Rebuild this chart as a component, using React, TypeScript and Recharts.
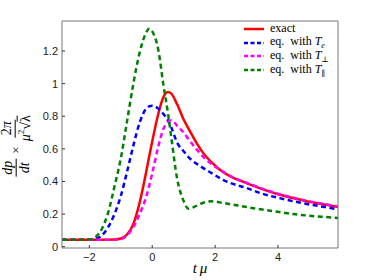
import React from "react";
import {
  LineChart,
  Line,
  XAxis,
  YAxis,
  Legend,
} from "recharts";

// time axis (t mu) and the four curves
const T = [
  -2.87, -2.4, -2.0, -1.8, -1.6, -1.4, -1.2, -1.0, -0.8, -0.6, -0.4, -0.2, -0.1,
  0, 0.2, 0.35, 0.5, 0.6, 0.8, 1.0, 1.15, 1.4, 1.6, 1.9, 2.25, 2.5, 3.0, 3.5,
  4.0, 4.5, 5.0, 5.5, 5.91,
];

const EXACT = [
  0.043, 0.043, 0.043, 0.043, 0.043, 0.043, 0.044, 0.05, 0.075, 0.14, 0.27,
  0.45, 0.55, 0.645, 0.82, 0.915, 0.948, 0.94, 0.87, 0.78, 0.725, 0.64, 0.58,
  0.515, 0.458, 0.43, 0.39, 0.353, 0.322, 0.297, 0.275, 0.258, 0.244,
];

const EQ_TE = [
  0.043, 0.043, 0.044, 0.048, 0.07, 0.12, 0.2, 0.31, 0.46, 0.62, 0.76, 0.845,
  0.86, 0.865, 0.845, 0.815, 0.775, 0.735, 0.635, 0.585, 0.55, 0.51, 0.485,
  0.45, 0.41, 0.39, 0.36, 0.325, 0.3, 0.278, 0.259, 0.243, 0.229,
];

const EQ_TPERP = [
  0.043, 0.043, 0.043, 0.043, 0.043, 0.043, 0.043, 0.046, 0.07, 0.12, 0.2, 0.3,
  0.37, 0.45, 0.62, 0.72, 0.765, 0.775, 0.74, 0.7, 0.66, 0.6, 0.555, 0.505,
  0.46, 0.432, 0.392, 0.356, 0.325, 0.3, 0.278, 0.261, 0.247,
];

const EQ_TPAR = [
  0.043, 0.043, 0.044, 0.06, 0.11, 0.21, 0.37, 0.54, 0.77, 1.0, 1.19, 1.31,
  1.337, 1.32, 1.2, 1.0, 0.82, 0.68, 0.41, 0.28, 0.233, 0.25, 0.268, 0.278,
  0.268, 0.26, 0.243, 0.228, 0.214, 0.2, 0.19, 0.182, 0.176,
];

const X_TICKS = [-2, 0, 2, 4];
const Y_TICKS = [0, 0.2, 0.4, 0.6, 0.8, 1, 1.2];

const data = T.map((t, i) => ({
  t,
  exact: EXACT[i],
  te: EQ_TE[i],
  tperp: EQ_TPERP[i],
  tpar: EQ_TPAR[i],
}));

const SERIES = [
  { key: "exact", color: "#ff0000", dash: undefined, sub: null },
  { key: "te", color: "#0000ff", dash: "5 3.5", sub: "e" },
  { key: "tperp", color: "#ff00ff", dash: "5 3.5", sub: "\u22a5" },
  { key: "tpar", color: "#008000", dash: "5 3.5", sub: "\u2225" },
];

const serif = "'Liberation Serif', 'DejaVu Serif', serif";
const sans = "'Liberation Sans', Arial, sans-serif";

function renderLegend() {
  return (
    <div style={{ fontFamily: serif, fontSize: 12, color: "#000" }}>
      {SERIES.map((s) => (
        <div
          key={s.key}
          style={{ display: "flex", alignItems: "center", height: 13.7 }}
        >
          <svg width={20} height={4} style={{ marginRight: 6 }}>
            <line
              x1={0}
              y1={2}
              x2={20}
              y2={2}
              stroke={s.color}
              strokeWidth={2.5}
              strokeDasharray={s.dash ? "4 2.5" : undefined}
            />
          </svg>
          {s.sub === null ? (
            <span>exact</span>
          ) : (
            <span style={{ whiteSpace: "nowrap" }}>
              eq.&nbsp; with <i>T</i>
              <sub style={{ fontSize: 8, fontStyle: s.sub === "e" ? "italic" : "normal" }}>
                {s.sub}
              </sub>
            </span>
          )}
        </div>
      ))}
    </div>
  );
}

function Frac({ num, den }: { num: React.ReactNode; den: React.ReactNode }) {
  return (
    <span
      style={{
        display: "inline-flex",
        flexDirection: "column",
        alignItems: "center",
        verticalAlign: "middle",
        lineHeight: 1,
      }}
    >
      <span style={{ borderBottom: "1px solid #000", padding: "0 2px 1px" }}>
        {num}
      </span>
      <span style={{ paddingTop: 1 }}>{den}</span>
    </span>
  );
}

export default function App() {
  return (
    <div
      style={{
        position: "absolute",
        left: 0,
        top: 0,
        width: 373,
        height: 280,
        background: "#fff",
      }}
    >
      <LineChart
        width={373}
        height={280}
        data={data}
        margin={{ top: 20, right: 34, bottom: 0, left: 0 }}
      >
        <XAxis
          dataKey="t"
          type="number"
          domain={[-2.87, 5.91]}
          ticks={X_TICKS}
          allowDataOverflow
          height={32}
          stroke="#777"
          tickSize={-3}
          tickMargin={8}
          tickLine={{ stroke: "#333" }}
          tick={{ fill: "#222", fontSize: 11, fontFamily: sans }}
          tickFormatter={(v) => (v < 0 ? `\u2212${-v}` : `${v}`)}
          label={{
            value: "t\u2009\u03bc",
            position: "insideBottom",
            offset: 7,
            style: { fontFamily: serif, fontStyle: "italic", fontSize: 15, fill: "#000" },
          }}
        />
        <XAxis
          xAxisId="top"
          orientation="top"
          type="number"
          domain={[-2.87, 5.91]}
          ticks={X_TICKS}
          allowDataOverflow
          height={1}
          stroke="#777"
          tickSize={-3}
          tickLine={{ stroke: "#333" }}
          tick={false}
        />
        <YAxis
          type="number"
          domain={[-0.008, 1.384]}
          ticks={Y_TICKS}
          allowDataOverflow
          width={62}
          stroke="#777"
          tickSize={-3}
          tickMargin={7}
          tickLine={{ stroke: "#333" }}
          tick={{ fill: "#222", fontSize: 11, fontFamily: sans }}
          tickFormatter={(v) => `${v}`}
        />
        <YAxis
          yAxisId="right"
          orientation="right"
          type="number"
          domain={[-0.008, 1.384]}
          ticks={Y_TICKS}
          allowDataOverflow
          width={1}
          stroke="#777"
          tickSize={-3}
          tickLine={{ stroke: "#333" }}
          tick={false}
        />
        <Legend
          layout="vertical"
          align="center"
          verticalAlign="middle"
          content={renderLegend}
          wrapperStyle={{ top: 22, left: 244, width: 120 }}
        />
        {SERIES.map((s) => (
          <Line
            key={s.key}
            type="monotone"
            dataKey={s.key}
            stroke={s.color}
            strokeWidth={2.5}
            strokeDasharray={s.dash}
            dot={false}
            activeDot={false}
            isAnimationActive={false}
          />
        ))}
      </LineChart>

      {/* y label, rotated like the MATLAB one */}
      <div
        style={{
          position: "absolute",
          left: 16,
          top: 146,
          transform: "translate(-50%, -50%) rotate(-90deg)",
          whiteSpace: "nowrap",
          fontFamily: serif,
          fontSize: 14,
          color: "#000",
          display: "flex",
          alignItems: "center",
          gap: 5,
        }}
      >
        <Frac num={<i>dp</i>} den={<i>dt</i>} />
        <span style={{ fontSize: 13 }}>&times;</span>
        <Frac
          num={<span>2<i>&pi;</i></span>}
          den={
            <span>
              <i>&mu;</i>
              <sup style={{ fontSize: 9 }}>2</sup>
              <span>&radic;</span>
              <span style={{ borderTop: "1px solid #000" }}>&lambda;</span>
            </span>
          }
        />
      </div>
    </div>
  );
}
